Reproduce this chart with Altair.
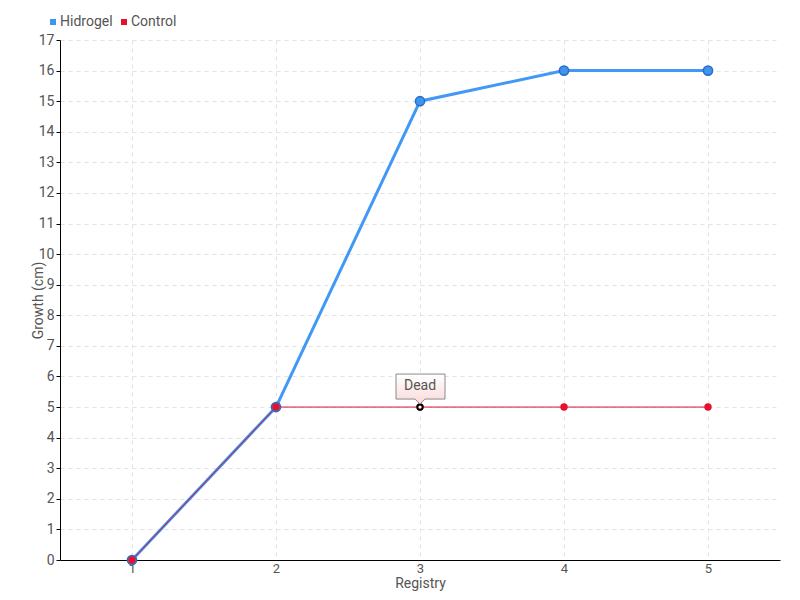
import altair as alt
import pandas as pd

registry = [1, 2, 3, 4, 5]
hidrogel = [0, 5, 15, 16, 16]
control = [0, 5, 5, 5, 5]
series_names = ["Hidrogel", "Control"]
series_colors = ["#3d95f0", "#e8112d"]
note_x = [3]
note_y = [5]
note_text = ["Dead"]
y_ticks = list(range(0, 18))

FONT = "Roboto, sans-serif"
TXT = "#555555"

rows = []
for r, v in zip(registry, hidrogel):
    rows.append({"Registry": r, "Growth": v, "Series": "Hidrogel"})
for r, v in zip(registry, control):
    rows.append({"Registry": r, "Growth": v, "Series": "Control"})
df = pd.DataFrame(rows)
note_df = pd.DataFrame({"Registry": note_x, "Growth": note_y, "label": note_text})

xs = alt.Scale(domain=[0.5, 5.5], nice=False, zero=False)
ys = alt.Scale(domain=[0, 17], nice=False)
x_enc = alt.X("Registry:Q", scale=xs, title="Registry",
              axis=alt.Axis(values=registry, format="d", ticks=False, grid=True,
                            gridDash=[4, 4], gridColor="#e3e3e3", domainColor="#000000",
                            labelPadding=2, labelFontSize=13,
                            titleY=23, titleBaseline="middle"))
y_enc = alt.Y("Growth:Q", scale=ys, title="Growth (cm)",
              axis=alt.Axis(values=y_ticks, format="d", grid=True, tickSize=4,
                            tickColor="#000000", gridDash=[4, 4], gridColor="#e3e3e3",
                            domainColor="#000000", labelPadding=2,
                            titleX=-22, titleY=260, titleAngle=270,
                            titleBaseline="middle", titleAlign="center"))
color = alt.Color("Series:N", scale=alt.Scale(domain=series_names, range=series_colors),
                  legend=alt.Legend(title=None, orient="none", legendX=-14, legendY=-25,
                                    direction="horizontal", symbolType="square",
                                    symbolSize=36, symbolStrokeWidth=0,
                                    labelFontSize=14, labelFont=FONT, labelColor=TXT,
                                    columnPadding=4, labelOffset=0, padding=0))

base = alt.Chart(df)
hid = base.transform_filter(alt.datum.Series == "Hidrogel")
ctl = base.transform_filter(alt.datum.Series == "Control")

hid_line = hid.mark_line(color="#4298f5", strokeWidth=3).encode(x=x_enc, y=y_enc)
hid_pts = hid.mark_point(filled=True, size=85, stroke="#2a6cc2", strokeWidth=1.5,
                         opacity=1).encode(x=x_enc, y=y_enc, color=color)
ctl_line = ctl.mark_line(color="#d81030", strokeWidth=1).encode(x=x_enc, y=y_enc)
ctl_pts = ctl.mark_point(filled=True, size=55, opacity=1).encode(x=x_enc, y=y_enc, color=color)

nb = alt.Chart(note_df)
dead_pt = nb.mark_point(filled=True, size=28, fill="white", stroke="#000000",
                        strokeWidth=2, opacity=1).encode(x=x_enc, y=y_enc)
callout_path = ("M -0.6 -0.825 L 0.625 -0.825 L 0.625 -0.2 L 0.125 -0.2 "
                "L 0 -0.075 L -0.125 -0.2 L -0.6 -0.2 Z")
callout = nb.mark_point(
    shape=callout_path, size=6400, filled=True, opacity=1,
    fill=alt.Gradient(gradient="linear",
                      stops=[alt.GradientStop(color="#ffffff", offset=0),
                             alt.GradientStop(color="#fbd9d9", offset=1)],
                      x1=0, y1=0, x2=0, y2=1),
    stroke="#8a8a8a", strokeWidth=1).encode(x=x_enc, y=y_enc)
note_txt = nb.mark_text(dy=-21, fontSize=14, font=FONT, color=TXT,
                        baseline="middle").encode(x=x_enc, y=y_enc, text="label:N")

chart = alt.layer(hid_line, ctl_line, hid_pts, ctl_pts, dead_pt, callout, note_txt).properties(
    width=720, height=520,
    autosize=alt.AutoSizeParams(type="none"),
    padding={"left": 52, "top": 32, "right": 12, "bottom": 32},
).configure_axis(
    labelFont=FONT, labelFontSize=14, labelColor=TXT,
    titleFont=FONT, titleFontSize=14, titleColor=TXT, titleFontWeight="normal",
).configure_view(stroke=None)

chart.save("out.html", embed_options={"renderer": "svg", "actions": False})
